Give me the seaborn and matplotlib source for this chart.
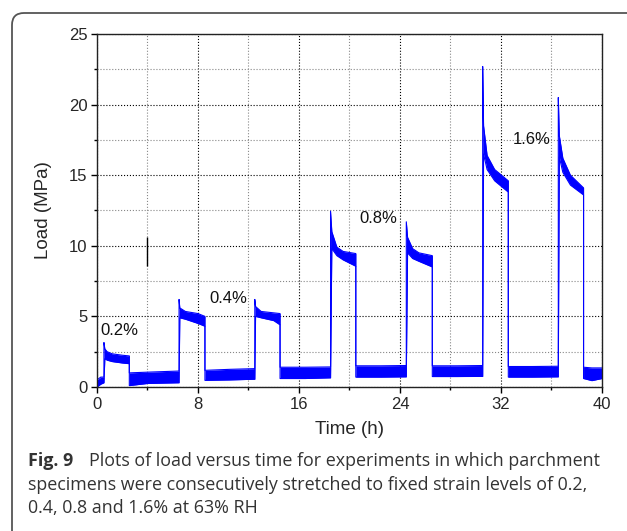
import numpy as np
import matplotlib
matplotlib.use("Agg")
import matplotlib.pyplot as plt
import seaborn as sns
from matplotlib.patches import FancyBboxPatch
from matplotlib.transforms import IdentityTransform
from matplotlib.ticker import MultipleLocator

# envelope of the noisy load trace (time in h, load in MPa)
t = [0.0, 0.3, 0.55,
     0.55, 0.62, 0.8, 1.2, 2.0, 2.56,
     2.56, 4.0, 6.5,
     6.5, 6.56, 7.0, 8.0, 8.55,
     8.55, 10.5, 12.5,
     12.5, 12.56, 13.0, 14.0, 14.5,
     14.5, 16.5, 18.5,
     18.5, 18.6, 19.0, 19.5, 20.5,
     20.5, 22.5, 24.5,
     24.5, 24.6, 25.0, 25.5, 26.56,
     26.56, 28.5, 30.55,
     30.55, 30.62, 30.9, 31.5, 32.58,
     32.58, 34.5, 36.54,
     36.54, 36.62, 36.9, 37.5, 38.54,
     38.54, 39.2, 40.0]
lo = [0.0, 0.2, 0.3,
      0.3, 2.0, 1.9, 1.8, 1.7, 1.65,
      0.1, 0.25, 0.3,
      0.3, 4.9, 4.8, 4.5, 4.3,
      0.47, 0.5, 0.55,
      0.55, 5.0, 4.9, 4.7, 4.4,
      0.6, 0.6, 0.65,
      0.65, 9.8, 9.3, 9.0, 8.55,
      0.7, 0.7, 0.72,
      0.72, 9.5, 9.1, 8.9, 8.5,
      0.74, 0.74, 0.75,
      0.75, 16.5, 15.4, 14.6, 13.8,
      0.7, 0.7, 0.72,
      0.72, 16.3, 15.2, 14.3, 13.6,
      0.6, 0.45, 0.6]
hi = [0.5, 0.7, 0.7,
      3.15, 2.7, 2.5, 2.35, 2.25, 2.2,
      1.0, 1.05, 1.13,
      6.2, 5.6, 5.35, 5.2, 5.0,
      1.18, 1.25, 1.3,
      6.2, 5.7, 5.35, 5.25, 5.2,
      1.4, 1.4, 1.42,
      12.45, 11.0, 9.9, 9.6, 9.45,
      1.5, 1.5, 1.52,
      11.7, 10.6, 9.8, 9.5, 9.3,
      1.5, 1.5, 1.52,
      22.7, 18.5, 16.4, 15.4, 14.6,
      1.45, 1.45, 1.47,
      20.5, 17.8, 16.2, 15.0, 14.1,
      1.4, 1.35, 1.35]

labels = ["0.2%", "0.4%", "0.8%", "1.6%"]
label_t = [1.75, 10.4, 22.3, 34.4]
label_y = [4.0, 6.3, 11.9, 17.5]

# short black mark near t = 4 h
mark_t = 4.0
mark_y = [8.55, 10.6]

caption_bold = "Fig. 9"
caption_lines = ["Plots of load versus time for experiments in which parchment",
                 "specimens were consecutively stretched to fixed strain levels of 0.2,",
                 "0.4, 0.8 and 1.6% at 63% RH"]

sns.set_style("ticks")
plt.rcParams['font.family'] = ['Liberation Sans', 'DejaVu Sans']

fig = plt.figure(figsize=(6.27, 5.31), dpi=100)
ax = fig.add_axes([0.1547, 0.2712, 0.8054, 0.6648])

ax.fill_between(t, lo, hi, color="#0000ff", lw=0)
sns.lineplot(x=t, y=hi, estimator=None, sort=False, color="#0000ff", lw=0.8, ax=ax)
sns.lineplot(x=t, y=lo, estimator=None, sort=False, color="#0000ff", lw=0.8, ax=ax)
ax.vlines(mark_t, mark_y[0], mark_y[1], color="black", lw=1)

for s, x, y in zip(labels, label_t, label_y):
    ax.text(x, y, s, ha="center", va="center", fontsize=12, color="#111111")

ax.set_xlim(0, 40)
ax.set_ylim(0, 25)
ax.xaxis.set_major_locator(MultipleLocator(8))
ax.xaxis.set_minor_locator(MultipleLocator(4))
ax.yaxis.set_major_locator(MultipleLocator(5))
ax.yaxis.set_minor_locator(MultipleLocator(2.5))
ax.grid(which="major", color="black", ls=":", lw=0.8)
ax.grid(which="minor", color="#888888", ls=":", lw=0.8)
ax.tick_params(which="major", direction="out", length=4, width=1, labelsize=12, pad=3, color="black")
ax.tick_params(which="minor", direction="out", length=2.5, width=1, color="black")
for sp in ax.spines.values():
    sp.set_visible(True)
    sp.set_color("#222222")
    sp.set_linewidth(1)

ax.set_xlabel("Time (h)", fontsize=13.5)
ax.set_ylabel("Load (MPa)", fontsize=13.5)
ax.xaxis.set_label_coords(0.5, -0.095)
ax.yaxis.set_label_coords(-0.09, 0.5)

# caption
cap_font = ['Open Sans', 'DejaVu Sans']
cap_size = 12.9
fig.text(28 / 627, 1 - 466 / 531, caption_bold, fontsize=cap_size, weight="bold",
         family=cap_font, color="#333333", va="baseline")
fig.text(89 / 627, 1 - 466 / 531, caption_lines[0], fontsize=cap_size,
         family=cap_font, color="#333333", va="baseline")
fig.text(28 / 627, 1 - 490 / 531, caption_lines[1], fontsize=cap_size,
         family=cap_font, color="#333333", va="baseline")
fig.text(28 / 627, 1 - 513 / 531, caption_lines[2], fontsize=cap_size,
         family=cap_font, color="#333333", va="baseline")

# rounded frame around the figure
frame = FancyBboxPatch((12, -40), 700, 531 - 13 + 40, boxstyle="round,pad=0,rounding_size=12",
                       transform=IdentityTransform(), fill=False, edgecolor="#555555", lw=1.3)
fig.add_artist(frame)

fig.savefig("out.png", dpi=100)
